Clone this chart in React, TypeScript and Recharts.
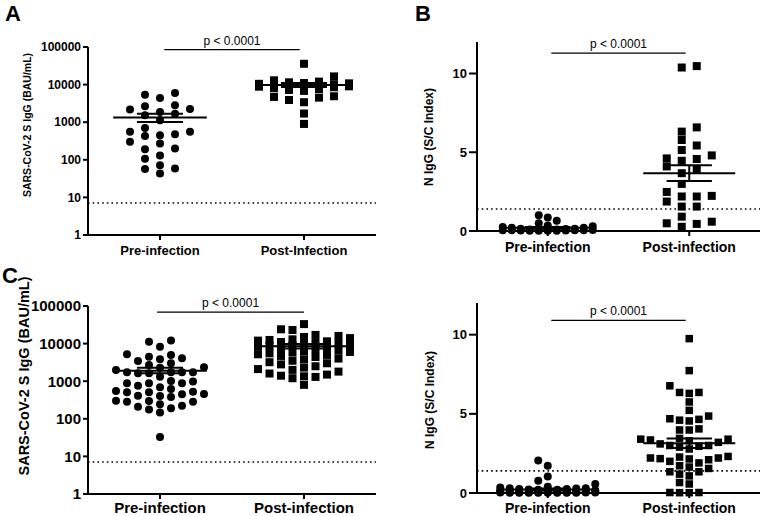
import { ScatterChart, Scatter, XAxis, YAxis, ReferenceLine } from 'recharts';

const FONT = '"Liberation Sans", Arial, Helvetica, sans-serif';

// categories
const catsA = ['Pre-infection', 'Post-Infection'];
const catsOther = ['Pre-infection', 'Post-infection'];
const pText = 'p < 0.0001';

// panel A: S IgG (BAU/mL), first cohort
const aPre = [2160, 700, 430, 4380, 1870, 1120, 560, 270, 130, 72, 43, 5390, 2810, 1690, 480, 200, 59, 5950, 2640, 1520, 560, 190, 106, 57, 2240, 450, 300];
const aPost = [35800, 16500, 13000, 12000, 11500, 11000, 10800, 10500, 10200, 10000, 9800, 9500, 9200, 9000, 8800, 8500, 8000, 7600, 7200, 6800, 4900, 4700, 4500, 3900, 3400, 1700, 900];
const aPreStats = [1325, 1010, 1690]; // mean, sem low, sem high
const aPostStats = [9800, 8600, 11000];

// panel B: N IgG (S/C index), first cohort
const bPre = [0.85, 0.65, 1.0, 0.5, 0.35, 0.3, 0.25, 0.2, 0.2, 0.15, 0.15, 0.12, 0.1, 0.1, 0.08, 0.08, 0.06, 0.05, 0.05, 0.04, 0.04, 0.03, 0.03, 0.02, 0.02, 0.01, 0.01];
const bPost = [10.47, 10.38, 6.58, 6.31, 5.78, 5.43, 5.14, 4.57, 4.61, 4.8, 4.46, 4.1, 3.93, 3.67, 2.99, 2.23, 2.19, 2.19, 2.48, 1.87, 1.55, 1.55, 0.91, 0.59, 0.45, 0.49, 0.27];
const bPreStats = [0.2, 0.15, 0.26];
const bPostStats = [3.67, 3.18, 4.18];

// panel C: S IgG (BAU/mL), second cohort
const cPre = [2340, 690, 380, 5190, 2700, 1620, 505, 283, 4050, 1620, 880, 410, 245, 146, 11200, 3450, 2280, 1730, 760, 455, 223, 12000, 4980, 3000, 1730, 1320, 880, 525, 302, 190, 33, 8300, 1990, 1020, 550, 297, 178, 3820, 1730, 880, 505, 283, 4470, 1730, 975, 620, 405, 210, 447];
const cPost = [33000, 24000, 23000, 17000, 16000, 15000, 14000, 13000, 12500, 12000, 11500, 11000, 10500, 10000, 9800, 9500, 9000, 8700, 8300, 8000, 7500, 7000, 6500, 6200, 6000, 5800, 5500, 5200, 5000, 4700, 4400, 4000, 3800, 3500, 3200, 3000, 2800, 2500, 2300, 2100, 2000, 1800, 1600, 1500, 1400, 1350, 1300, 1200, 800];
const cPreStats = [1900, 1620, 2280];
const cPostStats = [8500, 7400, 9800];

// panel D: N IgG (S/C index), second cohort
const dPre = [2.06, 1.72, 1.04, 0.78, 0.57, 0.4, 0.35, 0.3, 0.3, 0.28, 0.25, 0.25, 0.22, 0.2, 0.2, 0.18, 0.16, 0.15, 0.15, 0.14, 0.12, 0.12, 0.1, 0.1, 0.1, 0.09, 0.08, 0.08, 0.07, 0.07, 0.06, 0.06, 0.05, 0.05, 0.05, 0.04, 0.04, 0.04, 0.03, 0.03, 0.03, 0.02, 0.02, 0.02, 0.02, 0.01, 0.01, 0.01, 0.01];
const dPost = [9.75, 7.73, 6.77, 6.29, 6.35, 6.35, 5.75, 5.22, 4.86, 4.69, 4.55, 4.6, 4.65, 3.98, 3.98, 4.05, 3.45, 3.4, 3.35, 3.3, 3.4, 2.95, 3.0, 2.9, 3.2, 3.0, 3.1, 2.78, 2.31, 2.15, 2.27, 2.21, 2.21, 2.17, 2.0, 2.1, 1.64, 1.72, 1.9, 1.34, 1.34, 1.08, 1.19, 0.57, 0.66, 1.55, 0.02, 0.03, 0.02, 0.03];
const dPreStats = [0.22, 0.16, 0.29];
const dPostStats = [3.14, 2.85, 3.45];

const logTicks = [1, 10, 100, 1000, 10000, 100000];
const linTicks = [0, 5, 10];

const slotList = (max: number, half: boolean) => {
  const out: number[] = half ? [] : [0];
  for (let k = half ? 0.5 : 1; k <= max; k += 1) out.push(-k, k);
  return out;
};

// greedy column swarm: each point goes to the first free column slot
function swarm(vals: number[], toPx: (v: number) => number, step: number, slots: number[], minDy: number) {
  const order = vals.map((_, i) => i).sort((a, b) => vals[a] - vals[b]);
  const placed: { s: number; py: number }[] = [];
  const out: number[] = new Array(vals.length).fill(0);
  order.forEach((i) => {
    const py = toPx(vals[i]);
    let best = slots[0];
    let bestGap = -1;
    for (const s of slots) {
      let gap = Infinity;
      placed.forEach((p) => {
        if (p.s === s) gap = Math.min(gap, Math.abs(p.py - py));
      });
      if (gap >= minDy) { best = s; break; }
      if (gap > bestGap) { bestGap = gap; best = s; }
    }
    placed.push({ s: best, py });
    out[i] = best * step;
  });
  return out;
}

const Dot = (r: number) => (p: any) => <circle cx={p.cx} cy={p.cy} r={r} fill="#000" />;
const Sq = (a: number) => (p: any) => <rect x={p.cx - a / 2} y={p.cy - a / 2} width={a} height={a} fill="#000" />;

const panels = [
  {
    letter: 'A', letterX: 5, letterY: 3, left: 0, top: 0, width: 380, height: 258, mTop: 47, mRight: 4, yW: 88, xH: 23,
    log: true, yFont: 12, xFont: 13, xMargin: 6, yTick: 5, yMargin: 2, title: 'SARS-CoV-2 S IgG (BAU/mL)', titleFont: 10.5, titleX: 27, titleY: 125,
    cats: catsA, pre: aPre, post: aPost, preStats: aPreStats, postStats: aPostStats, cutoff: 7.1, pY: 85000, pX: [1.06, 2.94],
    preSw: { step: 15, slots: slotList(2, false), minDy: 8 }, postSw: { step: 15, slots: slotList(3, false), minDy: 8 }, r: 4, sq: 8,
  },
  {
    letter: 'B', letterX: 35, letterY: 3, left: 380, top: 0, width: 382, height: 258, mTop: 42, mRight: 2, yW: 97, xH: 27,
    log: false, yFont: 13, xFont: 14, xMargin: 6, yTick: 8, yMargin: 2, title: 'N IgG (S/C Index)', titleFont: 12, titleX: 49, titleY: 137,
    cats: catsOther, pre: bPre, post: bPost, preStats: bPreStats, postStats: bPostStats, cutoff: 1.4, pY: 11.3, pX: [1.05, 2.95],
    preSw: { step: 9, slots: slotList(5, false), minDy: 7 }, postSw: { step: 15, slots: slotList(1.5, true), minDy: 8 }, r: 4, sq: 8,
  },
  {
    letter: 'C', letterX: 2, letterY: 9, left: 0, top: 256, width: 380, height: 260, mTop: 50, mRight: 4, yW: 88, xH: 22,
    log: true, yFont: 15, xFont: 15, xMargin: 3, yTick: 5, yMargin: 2, title: 'SARS-CoV-2 S IgG (BAU/mL)', titleFont: 14.5, titleX: 24, titleY: 120,
    cats: catsOther, pre: cPre, post: cPost, preStats: cPreStats, postStats: cPostStats, cutoff: 7.1, pY: 69000, pX: [0.96, 3.0],
    preSw: { step: 11, slots: slotList(4, false), minDy: 8 }, postSw: { step: 11.5, slots: slotList(4, false), minDy: 8 }, r: 4, sq: 8,
  },
  {
    letter: '', letterX: 0, letterY: 0, left: 380, top: 256, width: 382, height: 260, mTop: 47, mRight: 2, yW: 97, xH: 23,
    log: false, yFont: 13, xFont: 14, xMargin: 5, yTick: 8, yMargin: 2, title: 'N IgG (S/C Index)', titleFont: 12, titleX: 50, titleY: 144,
    cats: catsOther, pre: dPre, post: dPost, preStats: dPreStats, postStats: dPostStats, cutoff: 1.4, pY: 10.9, pX: [1.05, 2.95],
    preSw: { step: 9.5, slots: slotList(5, false), minDy: 7 }, postSw: { step: 9.7, slots: slotList(5, false), minDy: 8 }, r: 4, sq: 7.5,
  },
];

const statLines = (c: number, s: number[], key: string) => [
  <ReferenceLine key={key + 'm'} segment={[{ x: c - 0.65, y: s[0] }, { x: c + 0.65, y: s[0] }]} stroke="#000" strokeWidth={2} />,
  <ReferenceLine key={key + 'l'} segment={[{ x: c - 0.32, y: s[1] }, { x: c + 0.32, y: s[1] }]} stroke="#000" strokeWidth={2} />,
  <ReferenceLine key={key + 'h'} segment={[{ x: c - 0.32, y: s[2] }, { x: c + 0.32, y: s[2] }]} stroke="#000" strokeWidth={2} />,
  <ReferenceLine key={key + 'v'} segment={[{ x: c, y: s[1] }, { x: c, y: s[2] }]} stroke="#000" strokeWidth={2} />,
];

const Panel = ({ p }: { p: any }) => {
  const plotW = p.width - p.yW - p.mRight;
  const plotH = p.height - p.mTop - p.xH;
  const unit = plotW / 4;
  const toPx = p.log ? (v: number) => (Math.log10(v) * plotH) / 5 : (v: number) => (v * plotH) / 12;
  const preOff = swarm(p.pre, toPx, p.preSw.step, p.preSw.slots, p.preSw.minDy);
  const postOff = swarm(p.post, toPx, p.postSw.step, p.postSw.slots, p.postSw.minDy);
  const preData = p.pre.map((v: number, i: number) => ({ x: 1 + preOff[i] / unit, y: v }));
  const postData = p.post.map((v: number, i: number) => ({ x: 3 + postOff[i] / unit, y: v }));
  const axisStyle = { stroke: '#000', strokeWidth: 2 };
  return (
    <div style={{ position: 'absolute', left: p.left, top: p.top, width: p.width, height: p.height }}>
      <ScatterChart width={p.width} height={p.height} margin={{ top: p.mTop, right: p.mRight, bottom: 0, left: 0 }}>
        <XAxis
          type="number"
          dataKey="x"
          domain={[0, 4]}
          ticks={[1, 3]}
          interval={0}
          height={p.xH}
          tickFormatter={(v: number) => (v === 1 ? p.cats[0] : p.cats[1])}
          axisLine={axisStyle}
          tickLine={axisStyle}
          tickSize={5}
          tickMargin={p.xMargin}
          tick={{ fill: '#000', fontSize: p.xFont, fontWeight: 700, fontFamily: FONT }}
        />
        <YAxis
          type="number"
          dataKey="y"
          scale={p.log ? 'log' : 'linear'}
          domain={p.log ? [1, 100000] : [0, 12]}
          ticks={p.log ? logTicks : linTicks}
          interval={0}
          width={p.yW}
          axisLine={axisStyle}
          tickLine={axisStyle}
          tickSize={p.yTick}
          tickMargin={p.yMargin}
          tick={{ fill: '#000', fontSize: p.yFont, fontWeight: 700, fontFamily: FONT }}
        />
        <ReferenceLine y={p.cutoff} stroke="#000" strokeWidth={1.6} strokeDasharray="1.6 3.1" />
        <Scatter data={preData} shape={Dot(p.r)} isAnimationActive={false} />
        <Scatter data={postData} shape={Sq(p.sq)} isAnimationActive={false} />
        {statLines(1, p.preStats, 'pre')}
        {statLines(3, p.postStats, 'post')}
        <ReferenceLine
          segment={[{ x: p.pX[0], y: p.pY }, { x: p.pX[1], y: p.pY }]}
          stroke="#000"
          strokeWidth={1.2}
          label={{ value: pText, position: 'top', fill: '#000', fontSize: 12, fontFamily: FONT }}
        />
      </ScatterChart>
      <div
        style={{
          position: 'absolute', left: p.titleX, top: p.titleY, transform: 'translate(-50%, -50%) rotate(-90deg)',
          whiteSpace: 'nowrap', fontFamily: FONT, fontWeight: 700, fontSize: p.titleFont, color: '#000', lineHeight: 1,
        }}
      >
        {p.title}
      </div>
      {p.letter && (
        <div style={{ position: 'absolute', left: p.letterX, top: p.letterY, fontFamily: FONT, fontWeight: 700, fontSize: 22, lineHeight: 1, color: '#000' }}>
          {p.letter}
        </div>
      )}
    </div>
  );
};

export default function App() {
  return (
    <div style={{ position: 'absolute', left: 0, top: 0, width: 762, height: 516, background: '#fff', overflow: 'hidden' }}>
      {panels.map((p) => (
        <Panel key={p.left + '-' + p.top} p={p} />
      ))}
    </div>
  );
}
